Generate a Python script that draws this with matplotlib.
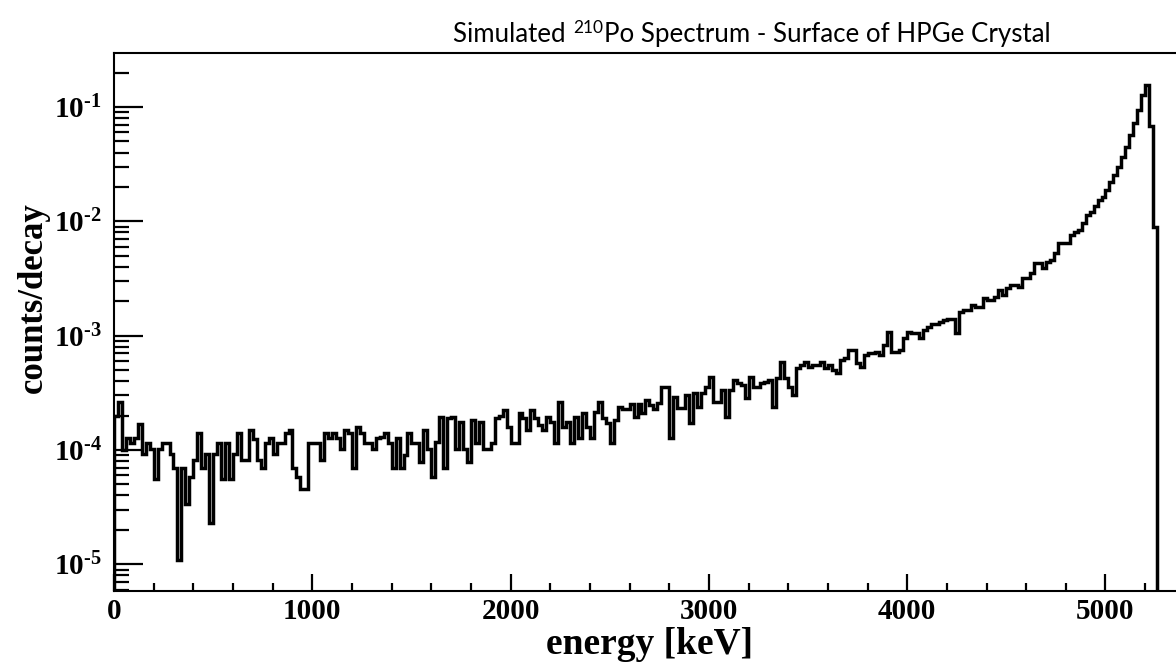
import numpy as np
import matplotlib
matplotlib.use("Agg")
import matplotlib.pyplot as plt
from matplotlib.ticker import MultipleLocator, LogLocator, FixedLocator, NullFormatter, FixedFormatter

plt.rcParams['mathtext.fontset'] = 'custom'
plt.rcParams['mathtext.rm'] = 'Liberation Serif:bold'
plt.rcParams['mathtext.it'] = 'Liberation Serif:bold'
plt.rcParams['mathtext.bf'] = 'Liberation Serif:bold'

# ---- data: 20 keV bins starting at 0 keV ----
bin_width_kev = 20
counts_0_66 = [
    2.0e-4, 2.65e-4, 1.0e-4, 1.27e-4, 1.14e-4, 1.27e-4, 1.7e-4, 0.93e-4, 1.15e-4, 1.03e-4,
    5.6e-5, 1.03e-4, 1.15e-4, 1.15e-4, 0.93e-4, 6.9e-5, 1.1e-5, 6.9e-5, 3.4e-5, 5.8e-5,
    8.2e-5, 1.4e-4, 6.9e-5, 0.93e-4, 2.3e-5, 0.93e-4, 1.15e-4, 5.6e-5, 1.15e-4, 5.6e-5,
    0.93e-4, 1.4e-4, 8.2e-5, 8.2e-5, 1.5e-4, 1.25e-4, 8.2e-5, 6.9e-5, 1.15e-4, 1.27e-4,
    0.93e-4, 1.15e-4, 1.15e-4, 1.4e-4, 1.5e-4, 6.9e-5, 5.8e-5, 4.6e-5, 4.6e-5, 1.15e-4,
    1.15e-4, 1.15e-4, 8.2e-5, 1.4e-4, 1.27e-4, 1.4e-4, 1.27e-4, 1.03e-4, 1.5e-4, 1.4e-4,
    6.9e-5, 1.6e-4, 1.4e-4, 1.15e-4, 1.15e-4, 1.03e-4, 1.27e-4,
]
counts_67_137 = [
    1.31e-4, 1.4e-4, 1.14e-4, 6.9e-5, 1.27e-4, 6.9e-5, 0.9e-4, 1.4e-4, 1.14e-4, 1.14e-4,
    7.9e-5, 1.5e-4, 1.03e-4, 5.8e-5, 1.18e-4, 1.95e-4, 6.9e-5, 1.89e-4, 1.95e-4, 1.03e-4,
    1.77e-4, 1.03e-4, 7.9e-5, 1.83e-4, 1.14e-4, 1.77e-4, 1.03e-4, 1.03e-4, 1.14e-4, 1.89e-4,
    2.0e-4, 2.24e-4, 1.6e-4, 1.14e-4, 1.14e-4, 2.09e-4, 1.89e-4, 1.5e-4, 2.24e-4, 1.89e-4,
    1.66e-4, 1.5e-4, 1.95e-4, 1.77e-4, 1.14e-4, 2.65e-4, 1.6e-4, 1.77e-4, 1.14e-4, 1.95e-4,
    1.27e-4, 2.09e-4, 1.6e-4, 1.27e-4, 2.15e-4, 2.65e-4, 1.89e-4, 1.71e-4, 1.14e-4, 1.83e-4,
    2.39e-4, 2.3e-4, 2.3e-4, 2.55e-4, 1.95e-4, 2.55e-4, 2.09e-4, 2.74e-4, 2.48e-4, 2.3e-4,
    2.6e-4,
]
counts_138_213 = [
    3.58e-4, 3.58e-4, 1.27e-4, 2.93e-4, 2.32e-4, 2.32e-4, 3.03e-4, 1.71e-4, 3.13e-4, 2.39e-4,
    3.13e-4, 3.58e-4, 4.39e-4, 2.65e-4, 2.65e-4, 3.35e-4, 1.95e-4, 3.35e-4, 4.1e-4, 3.84e-4,
    3.72e-4, 2.84e-4, 4.39e-4, 3.58e-4, 3.58e-4, 3.84e-4, 3.96e-4, 4.1e-4, 2.39e-4, 4.24e-4,
    5.93e-4, 4.24e-4, 3.58e-4, 3.03e-4, 5.19e-4, 5.55e-4, 5.93e-4, 5.36e-4, 5.55e-4, 5.55e-4,
    5.93e-4, 5.19e-4, 5.55e-4, 5.03e-4, 4.7e-4, 6.13e-4, 6.35e-4, 7.5e-4, 7.5e-4, 5.73e-4,
    5.36e-4, 6.78e-4, 7.0e-4, 7.0e-4, 7.25e-4, 6.78e-4, 8.28e-4, 1.08e-3, 7.25e-4, 7.25e-4,
    7.5e-4, 9.5e-4, 1.08e-3, 1.05e-3, 1.05e-3, 9.5e-4, 1.12e-3, 1.2e-3, 1.26e-3, 1.26e-3,
    1.32e-3, 1.37e-3, 1.41e-3, 1.41e-3, 1.06e-3, 1.6e-3,
]
counts_214_262 = [
    1.68e-3, 1.68e-3, 1.86e-3, 1.8e-3, 1.8e-3, 2.12e-3, 2.05e-3, 2.05e-3, 2.19e-3, 2.51e-3,
    2.27e-3, 2.6e-3, 2.78e-3, 2.78e-3, 2.69e-3, 3.18e-3, 3.18e-3, 3.51e-3, 4.3e-3, 4.3e-3,
    3.89e-3, 4.45e-3, 4.59e-3, 5.26e-3, 6.43e-3, 6.5e-3, 6.5e-3, 7.6e-3, 8.13e-3, 8.4e-3,
    9.62e-3, 1.14e-2, 1.22e-2, 1.35e-2, 1.54e-2, 1.65e-2, 1.88e-2, 2.23e-2, 2.55e-2, 3.01e-2,
    3.69e-2, 4.44e-2, 5.7e-2, 7.2e-2, 9.44e-2, 0.128, 0.156, 6.84e-2, 9.0e-3,
]
counts = np.array(counts_0_66 + counts_67_137 + counts_138_213 + counts_214_262)
edges = np.arange(len(counts) + 1) * bin_width_kev

x_major_ticks = [0, 1000, 2000, 3000, 4000, 5000]
x_tick_labels = ['0', '1000', '2000', '3000', '4000', '5000']
y_major_ticks = [1e-5, 1e-4, 1e-3, 1e-2, 1e-1]
y_tick_labels = [r'$10^{\text{-}5}$', r'$10^{\text{-}4}$', r'$10^{\text{-}3}$',
                 r'$10^{\text{-}2}$', r'$10^{\text{-}1}$']

title_pre = 'Simulated '
title_sup = '210'
title_post = 'Po Spectrum - Surface of HPGe Crystal'
xlabel = 'energy [keV]'
ylabel = 'counts/decay'

# ---- figure ----
W, H = 1176, 662
fig = plt.figure(figsize=(W / 100, H / 100), dpi=100)
xmin, xmax = 0, 5400
left_px, right_px, top_px, bot_px = 114, 114 + 5400 * 0.19830, 53, 591
ax_w_px = right_px - left_px
ax_h_px = bot_px - top_px
ax = fig.add_axes([left_px / W, (H - bot_px) / H, ax_w_px / W, ax_h_px / H])

ax.stairs(counts, edges, baseline=1e-9, color='black', linewidth=2.5)

ax.set_yscale('log')
ax.set_xlim(xmin, xmax)
ax.set_ylim(5.84e-6, 0.2973)

for s in ax.spines.values():
    s.set_linewidth(1.5)

ax.xaxis.set_major_locator(FixedLocator(x_major_ticks))
ax.xaxis.set_major_formatter(FixedFormatter(x_tick_labels))
ax.xaxis.set_minor_locator(MultipleLocator(200))
ax.yaxis.set_major_locator(FixedLocator(y_major_ticks))
ax.yaxis.set_major_formatter(FixedFormatter(y_tick_labels))
ax.yaxis.set_minor_locator(LogLocator(base=10, subs=np.arange(2, 10), numticks=20))
ax.yaxis.set_minor_formatter(NullFormatter())

ax.tick_params(axis='x', which='major', direction='in', length=12, width=1.6, pad=5,
               top=False, labelsize=21)
ax.tick_params(axis='x', which='minor', direction='in', length=6, width=1.6, top=False)
ax.tick_params(axis='y', which='major', direction='in', length=21, width=1.6, pad=9,
               right=False, labelsize=21)
ax.tick_params(axis='y', which='minor', direction='in', length=11, width=1.6, right=False)
for lab in ax.get_xticklabels():
    lab.set_fontfamily('Liberation Serif')
    lab.set_fontweight('bold')

ax.set_xlabel(xlabel, fontfamily='Liberation Serif', fontweight='bold', fontsize=27)
ax.xaxis.set_label_coords(0.5, (bot_px - 627) / ax_h_px)
ax.set_ylabel(ylabel, fontfamily='Liberation Serif', fontweight='bold', fontsize=25)
ax.yaxis.set_label_coords((50 - left_px) / ax_w_px, (bot_px - 298) / ax_h_px)

t1 = fig.text(453 / W, 1 - 47 / H, title_pre, fontfamily='Lato', fontsize=18.6,
              ha='left', va='bottom')
t2 = ax.annotate(title_sup, xy=(1, 0), xycoords=t1, xytext=(0.5, 8), textcoords='offset points',
                 fontfamily='Lato', fontsize=12.5, ha='left', va='bottom',
                 annotation_clip=False)
t3 = ax.annotate(title_post, xy=(1, 0), xycoords=(t2, t1), xytext=(0.5, 0),
                 textcoords='offset points',
                 fontfamily='Lato', fontsize=18.6, ha='left', va='bottom',
                 annotation_clip=False)

fig.savefig('out.png', dpi=100)
